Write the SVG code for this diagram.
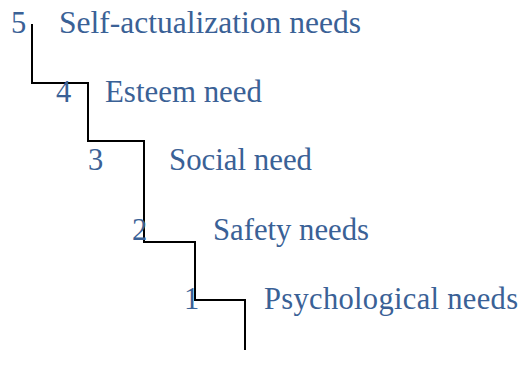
<svg xmlns="http://www.w3.org/2000/svg" width="524" height="381" viewBox="0 0 524 381">
  <style>
    .lbl { font-family: "Liberation Serif", "Times New Roman", serif; font-size: 30.5px; fill: #3a6196; }
    .step { fill: none; stroke: #000; stroke-width: 2; stroke-linejoin: miter; }
  </style>
  <rect width="524" height="381" fill="#fff"/>
  <!-- staircase of needs -->
  <g id="connectors">
    <path class="step" d="M32,24 V83 H88 V141 H144 V242 H195 V300 H245 V350"/>
  </g>
  <g id="level5">
    <text class="lbl" x="11" y="33">5</text>
    <text class="lbl" x="59" y="33" textLength="302" lengthAdjust="spacingAndGlyphs">Self-actualization needs</text>
  </g>
  <g id="level4">
    <text class="lbl" x="56" y="102">4</text>
    <text class="lbl" x="105" y="102" textLength="157" lengthAdjust="spacingAndGlyphs">Esteem need</text>
  </g>
  <g id="level3">
    <text class="lbl" x="88" y="170">3</text>
    <text class="lbl" x="169" y="170" textLength="143" lengthAdjust="spacingAndGlyphs">Social need</text>
  </g>
  <g id="level2">
    <text class="lbl" x="132" y="240">2</text>
    <text class="lbl" x="213" y="240" textLength="156" lengthAdjust="spacingAndGlyphs">Safety needs</text>
  </g>
  <g id="level1">
    <text class="lbl" x="184" y="309">1</text>
    <text class="lbl" x="264" y="309" textLength="254" lengthAdjust="spacing">Psychological needs</text>
  </g>
</svg>
